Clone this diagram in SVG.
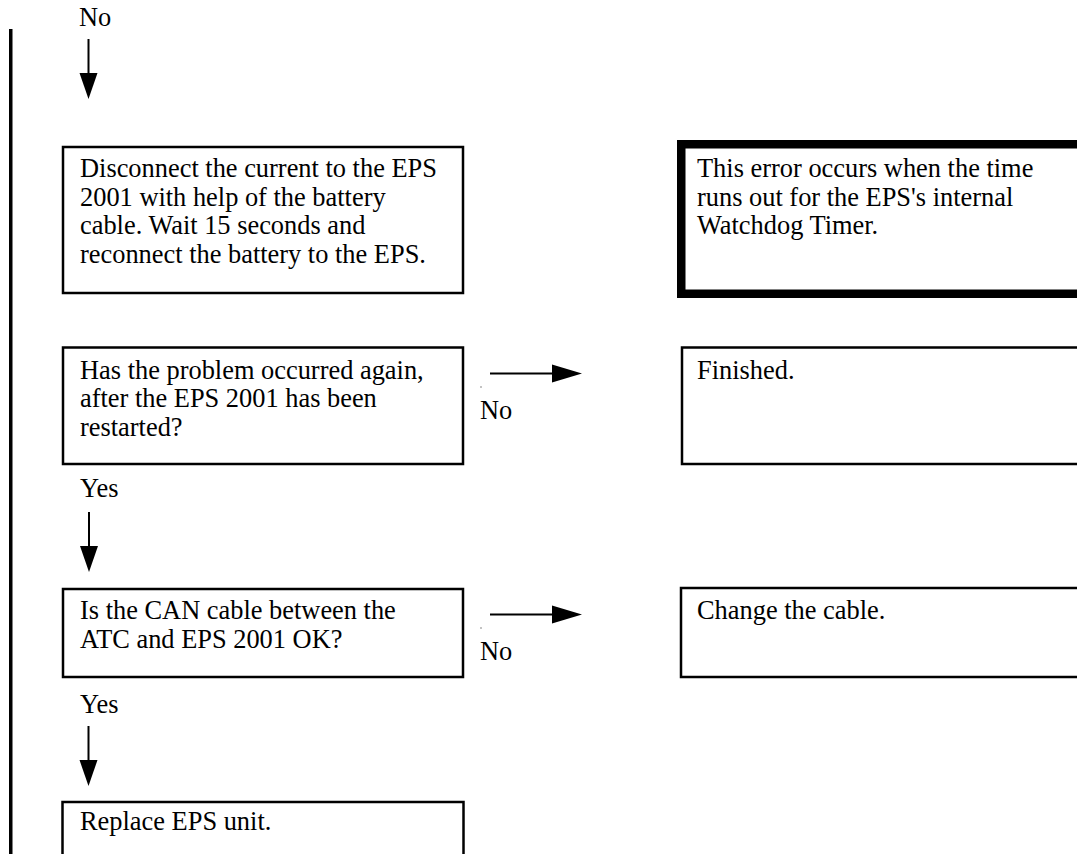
<svg xmlns="http://www.w3.org/2000/svg" width="1077" height="854" viewBox="0 0 1077 854">
  <style>
    .box { fill: #ffffff; stroke: #000000; stroke-width: 2.5; }
    .note { fill: #ffffff; stroke: #000000; stroke-width: 8.5; }
    .txt { font-family: "Liberation Serif", "Times New Roman", serif; font-size: 26.4px; fill: #000000; }
    .line { stroke: #000000; stroke-width: 2; fill: none; }
    .head { fill: #000000; }
  </style>
  <rect x="0" y="0" width="1077" height="854" fill="#ffffff"/>

  <!-- change bar along the left margin -->
  <rect x="9" y="29" width="3.5" height="825" fill="#000000"/>

  <!-- connectors -->
  <g id="connectors">
    <text class="txt" x="79" y="26">No</text>
    <line class="line" x1="88.5" y1="39" x2="88.5" y2="74"/>
    <polygon class="head" points="79.5,73 97.5,73 88.5,99"/>

    <line class="line" x1="490" y1="373.5" x2="553" y2="373.5"/>
    <polygon class="head" points="552,364.5 582,373.5 552,382.5"/>
    <rect x="480.5" y="386" width="1" height="2" fill="#888888"/>
    <text class="txt" x="480" y="419">No</text>

    <text class="txt" x="80" y="497">Yes</text>
    <line class="line" x1="89" y1="512" x2="89" y2="547"/>
    <polygon class="head" points="80,546 98,546 89,572"/>

    <line class="line" x1="490" y1="614.5" x2="553" y2="614.5"/>
    <polygon class="head" points="552,605.5 582,614.5 552,623.5"/>
    <rect x="480.5" y="627" width="1" height="2" fill="#888888"/>
    <text class="txt" x="480" y="660">No</text>

    <text class="txt" x="80" y="713">Yes</text>
    <line class="line" x1="88.5" y1="726" x2="88.5" y2="761"/>
    <polygon class="head" points="79.5,760 97.5,760 88.5,786"/>
  </g>

  <!-- step: restart -->
  <g id="node-disconnect">
    <rect class="box" x="63" y="147" width="400" height="146"/>
    <text class="txt" x="80" y="177">Disconnect the current to the EPS</text>
    <text class="txt" x="80" y="205.5">2001 with help of the battery</text>
    <text class="txt" x="80" y="234">cable. Wait 15 seconds and</text>
    <text class="txt" x="80" y="262.5">reconnect the battery to the EPS.</text>
  </g>

  <!-- explanatory note -->
  <g id="node-note">
    <rect class="note" x="681.25" y="144.25" width="420" height="149.5"/>
    <text class="txt" x="697" y="177">This error occurs when the time</text>
    <text class="txt" x="697" y="205.5">runs out for the EPS's internal</text>
    <text class="txt" x="697" y="234">Watchdog Timer.</text>
  </g>

  <!-- question: recurrence -->
  <g id="node-recurred">
    <rect class="box" x="63" y="347.5" width="400" height="116.5"/>
    <text class="txt" x="80" y="378.5">Has the problem occurred again,</text>
    <text class="txt" x="80" y="407">after the EPS 2001 has been</text>
    <text class="txt" x="80" y="435.5">restarted?</text>
  </g>

  <g id="node-finished">
    <rect class="box" x="682" y="347.5" width="420" height="116.5"/>
    <text class="txt" x="697" y="378.5">Finished.</text>
  </g>

  <!-- question: CAN cable -->
  <g id="node-cable">
    <rect class="box" x="63" y="589" width="400" height="88"/>
    <text class="txt" x="80" y="619">Is the CAN cable between the</text>
    <text class="txt" x="80" y="647.5">ATC and EPS 2001 OK?</text>
  </g>

  <g id="node-change-cable">
    <rect class="box" x="681" y="588" width="420" height="89"/>
    <text class="txt" x="697" y="619">Change the cable.</text>
  </g>

  <g id="node-replace">
    <rect class="box" x="62.5" y="802" width="401" height="80"/>
    <text class="txt" x="80" y="830">Replace EPS unit.</text>
  </g>
</svg>
